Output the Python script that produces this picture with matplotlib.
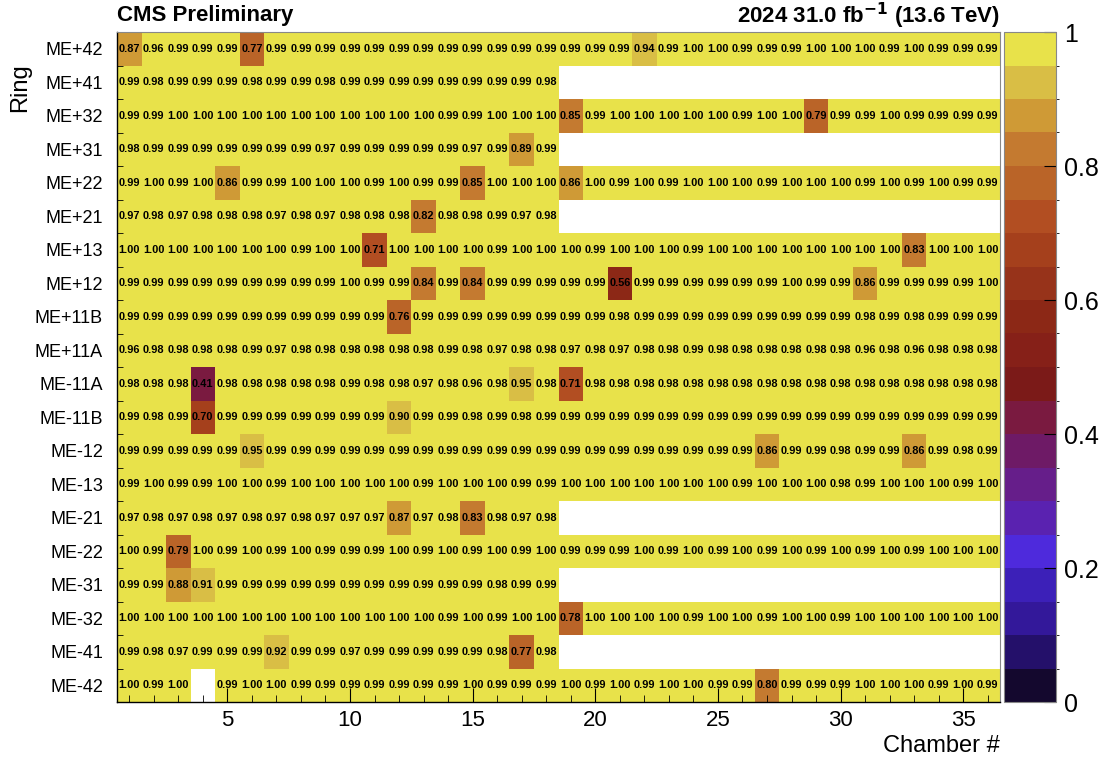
import numpy as np
import matplotlib.pyplot as plt
from matplotlib.colors import ListedColormap, BoundaryNorm
from matplotlib.ticker import MultipleLocator, FixedLocator

plt.rcParams['font.family'] = ['Liberation Sans', 'DejaVu Sans']

rings = ["ME+42", "ME+41", "ME+32", "ME+31", "ME+22", "ME+21", "ME+13", "ME+12",
         "ME+11B", "ME+11A", "ME-11A", "ME-11B", "ME-12", "ME-13", "ME-21", "ME-22",
         "ME-31", "ME-32", "ME-41", "ME-42"]
chambers = np.arange(1, 37)

# efficiency per chamber, one list per ring (18-chamber rings are shorter)
me_p42 = [0.87, 0.96, 0.99, 0.99, 0.99, 0.77, 0.99, 0.99, 0.99, 0.99, 0.99, 0.99, 0.99, 0.99, 0.99, 0.99, 0.99, 0.99,
          0.99, 0.99, 0.99, 0.94, 0.99, 1.00, 1.00, 0.99, 0.99, 0.99, 1.00, 1.00, 1.00, 0.99, 1.00, 0.99, 0.99, 0.99]
me_p41 = [0.99, 0.98, 0.99, 0.99, 0.99, 0.98, 0.99, 0.99, 0.98, 0.99, 0.99, 0.99, 0.99, 0.99, 0.99, 0.99, 0.99, 0.98]
me_p32 = [0.99, 0.99, 1.00, 1.00, 1.00, 1.00, 1.00, 1.00, 1.00, 1.00, 1.00, 1.00, 1.00, 0.99, 0.99, 1.00, 1.00, 1.00,
          0.85, 0.99, 1.00, 1.00, 1.00, 1.00, 1.00, 0.99, 1.00, 1.00, 0.79, 0.99, 0.99, 1.00, 0.99, 0.99, 0.99, 0.99]
me_p31 = [0.98, 0.99, 0.99, 0.99, 0.99, 0.99, 0.99, 0.99, 0.97, 0.99, 0.99, 0.99, 0.99, 0.99, 0.97, 0.99, 0.89, 0.99]
me_p22 = [0.99, 1.00, 0.99, 1.00, 0.86, 0.99, 0.99, 1.00, 1.00, 1.00, 0.99, 1.00, 0.99, 0.99, 0.85, 1.00, 1.00, 1.00,
          0.86, 1.00, 0.99, 1.00, 0.99, 1.00, 1.00, 1.00, 0.99, 1.00, 1.00, 1.00, 0.99, 1.00, 0.99, 1.00, 0.99, 0.99]
me_p21 = [0.97, 0.98, 0.97, 0.98, 0.98, 0.98, 0.97, 0.98, 0.97, 0.98, 0.98, 0.98, 0.82, 0.98, 0.98, 0.99, 0.97, 0.98]
me_p13 = [1.00, 1.00, 1.00, 1.00, 1.00, 1.00, 1.00, 0.99, 1.00, 1.00, 0.71, 1.00, 1.00, 1.00, 1.00, 0.99, 1.00, 1.00,
          1.00, 0.99, 1.00, 1.00, 1.00, 0.99, 1.00, 1.00, 1.00, 1.00, 1.00, 1.00, 1.00, 1.00, 0.83, 1.00, 1.00, 1.00]
me_p12 = [0.99, 0.99, 0.99, 0.99, 0.99, 0.99, 0.99, 0.99, 0.99, 1.00, 0.99, 0.99, 0.84, 0.99, 0.84, 0.99, 0.99, 0.99,
          0.99, 0.99, 0.56, 0.99, 0.99, 0.99, 0.99, 0.99, 0.99, 1.00, 0.99, 0.99, 0.86, 0.99, 0.99, 0.99, 0.99, 1.00]
me_p11b = [0.99, 0.99, 0.99, 0.99, 0.99, 0.99, 0.99, 0.99, 0.99, 0.99, 0.99, 0.76, 0.99, 0.99, 0.99, 0.99, 0.99, 0.99,
           0.99, 0.99, 0.98, 0.99, 0.99, 0.99, 0.99, 0.99, 0.99, 0.99, 0.99, 0.99, 0.98, 0.99, 0.98, 0.99, 0.99, 0.99]
me_p11a = [0.96, 0.98, 0.98, 0.98, 0.98, 0.99, 0.97, 0.98, 0.98, 0.98, 0.98, 0.98, 0.98, 0.99, 0.98, 0.97, 0.98, 0.98,
           0.97, 0.98, 0.97, 0.98, 0.98, 0.99, 0.98, 0.98, 0.98, 0.98, 0.98, 0.98, 0.96, 0.98, 0.96, 0.98, 0.98, 0.98]
me_m11a = [0.98, 0.98, 0.98, 0.41, 0.98, 0.98, 0.98, 0.98, 0.98, 0.99, 0.98, 0.98, 0.97, 0.98, 0.96, 0.98, 0.95, 0.98,
           0.71, 0.98, 0.98, 0.98, 0.98, 0.98, 0.98, 0.98, 0.98, 0.98, 0.98, 0.98, 0.98, 0.98, 0.98, 0.98, 0.98, 0.98]
me_m11b = [0.99, 0.98, 0.99, 0.70, 0.99, 0.99, 0.99, 0.99, 0.99, 0.99, 0.99, 0.90, 0.99, 0.99, 0.98, 0.99, 0.98, 0.99,
           0.99, 0.99, 0.99, 0.99, 0.99, 0.99, 0.99, 0.99, 0.99, 0.99, 0.99, 0.99, 0.99, 0.99, 0.99, 0.99, 0.99, 0.99]
me_m12 = [0.99, 0.99, 0.99, 0.99, 0.99, 0.95, 0.99, 0.99, 0.99, 0.99, 0.99, 0.99, 0.99, 0.99, 0.99, 0.99, 0.99, 0.99,
          0.99, 0.99, 0.99, 0.99, 0.99, 0.99, 0.99, 0.99, 0.86, 0.99, 0.99, 0.98, 0.99, 0.99, 0.86, 0.99, 0.98, 0.99]
me_m13 = [0.99, 1.00, 0.99, 0.99, 1.00, 1.00, 0.99, 1.00, 1.00, 1.00, 1.00, 1.00, 0.99, 1.00, 1.00, 1.00, 0.99, 0.99,
          1.00, 1.00, 1.00, 1.00, 1.00, 1.00, 1.00, 0.99, 1.00, 1.00, 1.00, 0.98, 0.99, 1.00, 1.00, 1.00, 0.99, 1.00]
me_m21 = [0.97, 0.98, 0.97, 0.98, 0.97, 0.98, 0.97, 0.98, 0.97, 0.97, 0.97, 0.87, 0.97, 0.98, 0.83, 0.98, 0.97, 0.98]
me_m22 = [1.00, 0.99, 0.79, 1.00, 0.99, 1.00, 0.99, 1.00, 0.99, 0.99, 0.99, 1.00, 0.99, 1.00, 0.99, 1.00, 0.99, 1.00,
          0.99, 0.99, 0.99, 1.00, 0.99, 1.00, 0.99, 1.00, 0.99, 1.00, 0.99, 1.00, 0.99, 1.00, 0.99, 1.00, 1.00, 1.00]
me_m31 = [0.99, 0.99, 0.88, 0.91, 0.99, 0.99, 0.99, 0.99, 0.99, 0.99, 0.99, 0.99, 0.99, 0.99, 0.99, 0.98, 0.99, 0.99]
me_m32 = [1.00, 1.00, 1.00, 1.00, 1.00, 1.00, 1.00, 1.00, 1.00, 1.00, 1.00, 1.00, 1.00, 0.99, 1.00, 0.99, 1.00, 1.00,
          0.78, 1.00, 1.00, 1.00, 1.00, 0.99, 1.00, 1.00, 0.99, 1.00, 1.00, 0.99, 1.00, 1.00, 1.00, 1.00, 1.00, 1.00]
me_m41 = [0.99, 0.98, 0.97, 0.99, 0.99, 0.99, 0.92, 0.99, 0.99, 0.97, 0.99, 0.99, 0.99, 0.99, 0.99, 0.98, 0.77, 0.98]
# chamber 4 of ME-42 has no entry
me_m42 = [1.00, 0.99, 1.00, None, 0.99, 1.00, 1.00, 0.99, 0.99, 0.99, 0.99, 0.99, 0.99, 0.99, 1.00, 0.99, 0.99, 0.99,
          1.00, 0.99, 1.00, 0.99, 1.00, 1.00, 0.99, 0.99, 0.80, 0.99, 0.99, 0.99, 1.00, 1.00, 1.00, 0.99, 1.00, 0.99]

all_rows = [me_p42, me_p41, me_p32, me_p31, me_p22, me_p21, me_p13, me_p12, me_p11b, me_p11a,
            me_m11a, me_m11b, me_m12, me_m13, me_m21, me_m22, me_m31, me_m32, me_m41, me_m42]

Z = np.full((len(rings), len(chambers)), np.nan)
for i, row in enumerate(all_rows):
    for j, v in enumerate(row):
        if v is not None:
            Z[i, j] = v

# 20-step palette (bottom -> top)
palette = ["#14082e", "#24106a", "#33189a", "#3c20b8", "#4e2adc",
           "#5a22b0", "#661e8a", "#6e1a66", "#7a1a40", "#7b1a18",
           "#862018", "#8c2816", "#97331a", "#a5401c", "#b24e22",
           "#ba6428", "#c47a30", "#cf9a36", "#d9be45", "#e8e24a"]
cmap = ListedColormap(palette)
cmap.set_bad("white")
norm = BoundaryNorm(np.linspace(0, 1, 21), cmap.N)

fig = plt.figure(figsize=(11.14, 7.64), dpi=100)
ax = fig.add_axes([117 / 1114, 1 - 702 / 764, 883 / 1114, 670 / 764])

x_edges = np.arange(0.5, 37.5, 1)
y_edges = np.arange(0, len(rings) + 1)
mesh = ax.pcolormesh(x_edges, y_edges, np.ma.masked_invalid(Z), cmap=cmap, norm=norm)
ax.set_xlim(0.5, 36.5)
ax.set_ylim(len(rings), 0)

for i in range(len(rings)):
    for j in range(len(chambers)):
        if not np.isnan(Z[i, j]):
            ax.text(chambers[j], i + 0.5, f"{Z[i, j]:.2f}", ha="center", va="center",
                    fontsize=7.9, fontweight="bold", color="black")

ax.xaxis.set_major_locator(FixedLocator([5, 10, 15, 20, 25, 30, 35]))
ax.xaxis.set_minor_locator(MultipleLocator(1))
ax.tick_params(axis="x", which="major", direction="in", length=10, labelsize=16, pad=6)
ax.tick_params(axis="x", which="minor", direction="in", length=5)
ax.set_yticks(np.arange(len(rings)) + 0.5)
ax.set_yticklabels(rings)
ax.yaxis.set_minor_locator(FixedLocator(np.arange(1, len(rings))))
ax.tick_params(axis="y", which="major", length=0, labelsize=13, pad=10)
ax.tick_params(axis="y", which="minor", direction="in", length=4)
for s in ["top", "right"]:
    ax.spines[s].set_color("#888888")
ax.spines["left"].set_linewidth(1.0)
ax.spines["bottom"].set_linewidth(1.0)

fig.text(0.018, 1 - 88 / 764, "Ring", rotation=90, fontsize=17, ha="center", va="center")
fig.text(1000 / 1114, 1 - 746 / 764, "Chamber #", fontsize=17, ha="right", va="center")
fig.text(117 / 1114, 1 - 16 / 764, "CMS Preliminary", fontsize=16, fontweight="bold",
         ha="left", va="center")
fig.text(1000 / 1114, 1 - 16 / 764, r"2024 31.0 fb$^{\mathbf{-1}}$ (13.6 TeV)", fontsize=16,
         fontweight="bold", ha="right", va="center")

cax = fig.add_axes([1004 / 1114, 1 - 702 / 764, 52 / 1114, 670 / 764])
cb = fig.colorbar(mesh, cax=cax, ticks=[0, 0.2, 0.4, 0.6, 0.8, 1.0])
cb.ax.set_yticklabels(["0", "0.2", "0.4", "0.6", "0.8", "1"])
cb.ax.tick_params(direction="in", length=9, labelsize=18, pad=6)
cb.outline.set_edgecolor("#888888")

fig.savefig("out.png", dpi=100)
